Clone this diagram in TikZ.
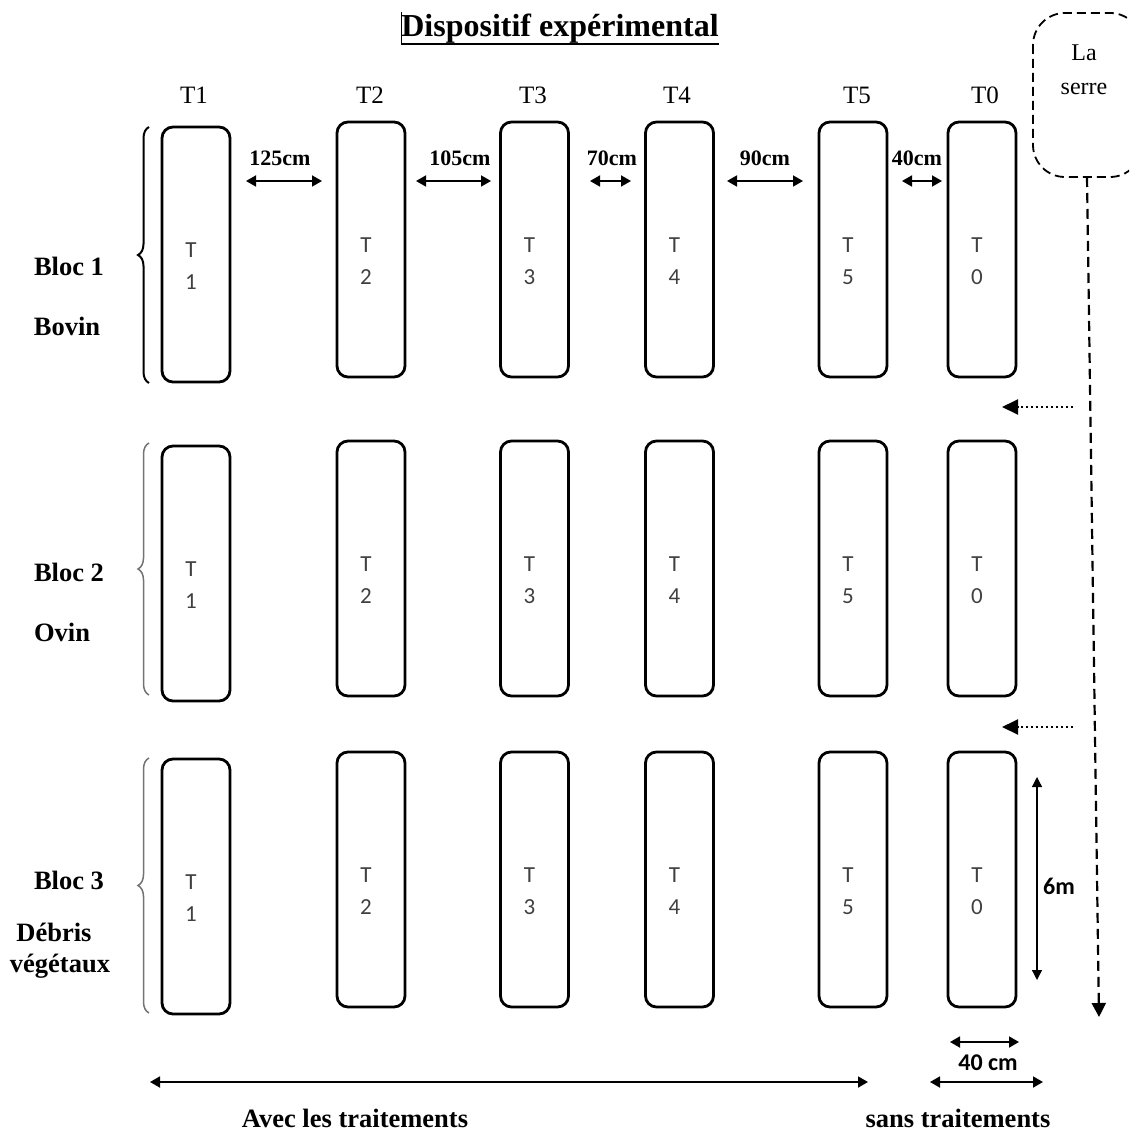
\documentclass[tikz,border=0pt]{standalone}
\usepackage{fontspec}
\setmainfont{Liberation Serif}
\newfontfamily\calib{Carlito}
\usetikzlibrary{arrows.meta,decorations.pathreplacing,calc}

\begin{document}
\begin{tikzpicture}[x=1pt,y=-1pt,
  plot/.style={draw, line width=2.8pt, rounded corners=11pt,
    minimum width=68pt, minimum height=255pt, inner sep=0pt},
  ptext/.style={font=\calib\fontsize{23}{32}\selectfont, text=black!75, align=center, inner sep=0pt},
  head/.style={font=\fontsize{25}{28}\selectfont, inner sep=0pt},
  blab/.style={font=\bfseries\fontsize{26.5}{30}\selectfont, inner sep=0pt},
  dist/.style={font=\bfseries\fontsize{22}{26}\selectfont, inner sep=0pt},
  dimarrow/.style={{Triangle[length=10pt,width=11pt]}-{Triangle[length=10pt,width=11pt]}, line width=1.8pt},
  thinarrow/.style={{Triangle[length=10pt,width=10pt]}-{Triangle[length=10pt,width=10pt]}, line width=1.3pt},
  blockbrace/.style={decorate, decoration={brace, amplitude=11pt}, line width=2pt},
  feed/.style={-{Triangle[length=16pt,width=15pt]}, line width=2pt, dash pattern=on 2pt off 3pt},
]
\useasboundingbox (0,0) rectangle (1129,1131);

% title
\node[font=\bfseries\fontsize{32}{36}\selectfont, inner sep=0pt] (title) at (560,29) {Dispositif expérimental};
\draw[line width=1.8pt] (title.south west |- 0,44) -- (title.south east |- 0,44);
\draw[line width=1pt] (title.west |- 0,12) -- (title.west |- 0,45);

% column headers
\foreach \c/\x in {1/194,2/370,3/533,4/677,5/857,0/985}
  \node[head] (h\c) at (\x,95) {T\c};

% plots: columns and blocks
\foreach \b/\yc/\yf in {1/249.5/254.5, 2/568.5/573.5, 3/879.5/886.5}{
  \node[plot] (r-\b-1) at (196,\yf) {};
  \foreach \c/\x in {2/371,3/534.5,4/679.5,5/853,0/982}
    \node[plot] (r-\b-\c) at (\x,\yc) {};
  \foreach \c in {1,2,3,4,5,0}
    \node[ptext] (t-\b-\c) at ($(r-\b-\c.center)+(-5,12)$) {T\\\c};
}

% spacing between columns
\coordinate (d1a) at (246,181); \coordinate (d1b) at (322,181);
\coordinate (d2a) at (416,181); \coordinate (d2b) at (491,181);
\coordinate (d3a) at (590,181); \coordinate (d3b) at (631,181);
\coordinate (d4a) at (727,181); \coordinate (d4b) at (803,181);
\coordinate (d5a) at (902,181); \coordinate (d5b) at (942,181);
\foreach \i in {1,...,5}
  \draw[dimarrow] (d\i a) -- (d\i b);
\node[dist] (l1) at (280,158) {125cm};
\node[dist] (l2) at (460,158) {105cm};
\node[dist] (l3) at (612,158) {70cm};
\node[dist] (l4) at (765,158) {90cm};
\node[dist] (l5) at (917,158) {40cm};

% block braces and names
\coordinate (b1t) at (149,127); \coordinate (b1b) at (149,383);
\coordinate (b2t) at (149,443); \coordinate (b2b) at (149,695);
\coordinate (b3t) at (149,758); \coordinate (b3b) at (149,1013);
\draw[blockbrace] (b1b) -- (b1t);
\draw[blockbrace, black!55, line width=1.5pt] (b2b) -- (b2t);
\draw[blockbrace, black!55, line width=1.5pt] (b3b) -- (b3t);

\node[blab] (bl1) at (69,266) {Bloc 1};
\node[blab] (bv1) at (67,326) {Bovin};
\node[blab] (bl2) at (69,572) {Bloc 2};
\node[blab] (bv2) at (62,632) {Ovin};
\node[blab] (bl3) at (69,880) {Bloc 3};
\node[blab] (bv3) at (54,932) {Débris};
\node[blab] (bv4) at (60,966) {végétaux};

% greenhouse and its feed line
\begin{scope}
  \clip (0,0) rectangle (1129,1131);
  \draw[line width=1.8pt, dash pattern=on 9pt off 5pt, rounded corners=32pt]
    (1033,13) rectangle (1142,177);
\end{scope}
\node[font=\fontsize{24}{34}\selectfont, align=center, inner sep=0pt] (serre) at (1084,70) {La\\serre};
\coordinate (s0) at (1087,177);
\coordinate (s1) at (1099,1017);
\draw[line width=2.2pt, dash pattern=on 10pt off 6pt, -{Triangle[length=14pt,width=14pt]}] (s0) -- (s1);

\coordinate (f1a) at (1073,407); \coordinate (f1b) at (1002,407);
\coordinate (f2a) at (1073,727); \coordinate (f2b) at (1002,727);
\draw[feed] (f1a) -- (f1b);
\draw[feed] (f2a) -- (f2b);

% plot length
\coordinate (m1) at (1037,777); \coordinate (m2) at (1037,980);
\draw[thinarrow] (m1) -- (m2);
\node[font=\calib\bfseries\fontsize{24}{28}\selectfont, inner sep=0pt] (m6) at (1059,886) {6m};

% plot width and treatment extents
\coordinate (w1) at (950,1042); \coordinate (w2) at (1019,1042);
\draw[dimarrow] (w1) -- (w2);
\node[font=\calib\bfseries\fontsize{24}{28}\selectfont, inner sep=0pt] (w40) at (988,1063) {40 cm};
\coordinate (e1) at (930,1082); \coordinate (e2) at (1043,1082);
\draw[dimarrow] (e1) -- (e2);
\coordinate (a1) at (150,1082); \coordinate (a2) at (868,1082);
\draw[dimarrow] (a1) -- (a2);

\node[blab, anchor=base] (avec) at (355,1127) {Avec les traitements};
\node[blab, anchor=base] (sans) at (958,1127) {sans traitements};
\end{tikzpicture}
\end{document}
